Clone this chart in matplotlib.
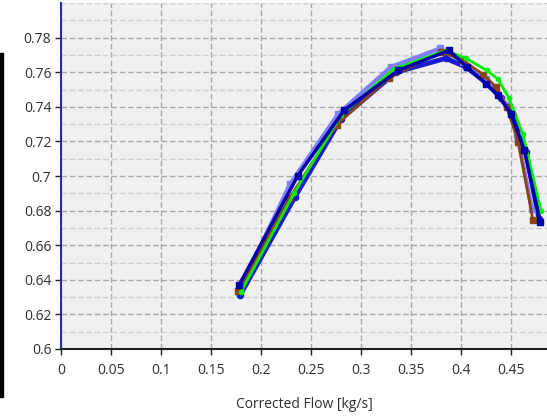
import matplotlib
matplotlib.use('Agg')
import matplotlib.pyplot as plt
from matplotlib.patches import Rectangle
from matplotlib.ticker import MultipleLocator

# efficiency line data
light_x = [0.179, 0.229, 0.2773, 0.330, 0.379, 0.402, 0.425, 0.4457, 0.4563, 0.4707]
light_y = [0.6345, 0.6953, 0.7360, 0.7631, 0.7737, 0.766, 0.756, 0.7412, 0.7238, 0.6812]

brown_x = [0.177, 0.2283, 0.2757, 0.3283, 0.3797, 0.4007, 0.4223, 0.435, 0.4457, 0.4573, 0.472]
brown_y = [0.6335, 0.687, 0.7297, 0.7569, 0.7718, 0.7673, 0.7586, 0.7515, 0.7399, 0.7195, 0.6744]

green_x = [0.18, 0.233, 0.28, 0.333, 0.385, 0.405, 0.426, 0.437, 0.448, 0.462, 0.48]
green_y = [0.633, 0.690, 0.735, 0.762, 0.7725, 0.768, 0.761, 0.756, 0.745, 0.724, 0.680]

blue_x = [0.179, 0.234, 0.28, 0.335, 0.3847, 0.405, 0.425, 0.44, 0.452, 0.465, 0.478]
blue_y = [0.631, 0.688, 0.733, 0.760, 0.768, 0.763, 0.754, 0.745, 0.735, 0.714, 0.675]

navy_x = [0.1783, 0.2367, 0.283, 0.3373, 0.388, 0.4057, 0.425, 0.4373, 0.45, 0.4633, 0.479]
navy_y = [0.6372, 0.7001, 0.7379, 0.7611, 0.7726, 0.7631, 0.7534, 0.7466, 0.736, 0.7150, 0.6734]

x_ticks = [0, 0.05, 0.1, 0.15, 0.2, 0.25, 0.3, 0.35, 0.4, 0.45]
x_tick_labels = ['0', '0.05', '0.1', '0.15', '0.2', '0.25', '0.3', '0.35', '0.4', '0.45']
y_ticks = [0.6, 0.62, 0.64, 0.66, 0.68, 0.7, 0.72, 0.74, 0.76, 0.78]
y_tick_labels = ['0.6', '0.62', '0.64', '0.66', '0.68', '0.7', '0.72', '0.74', '0.76', '0.78']


def main():
    plt.rcParams['font.family'] = ['Open Sans', 'DejaVu Sans']
    fig = plt.figure(figsize=(5.47, 4.18), dpi=100)
    fig.patch.set_facecolor('white')
    W, H = 547, 418
    ax = fig.add_axes([61 / W, 1 - 349 / H, (547 - 61) / W, (349 - 3) / H])
    ax.set_facecolor('#f0f0f0')

    # clipped bar at the far left of the window
    fig.patches.append(Rectangle((0, 1 - 397 / H), 3 / W, (397 - 53) / H,
                                 transform=fig.transFigure, color='black'))

    ax.plot(blue_x, blue_y, color='#1a1ad0', lw=3.5, marker='o', ms=4.5, zorder=3)
    ax.plot(light_x, light_y, color='#7f7fff', lw=3, marker='s', ms=5, zorder=4)
    ax.plot(brown_x, brown_y, color='#8b4513', lw=2, marker='s', ms=5, zorder=5)
    ax.plot(green_x, green_y, color='#00ee00', lw=2, marker='o', ms=3, zorder=6)
    ax.plot(navy_x, navy_y, color='#0000a8', lw=2.5, marker='s', ms=5, zorder=7)

    ax.set_xlim(0, 0.486)
    ax.set_ylim(0.6, 0.8)
    ax.set_xticks(x_ticks)
    ax.set_xticklabels(x_tick_labels)
    ax.set_yticks(y_ticks)
    ax.set_yticklabels(y_tick_labels)
    ax.yaxis.set_minor_locator(MultipleLocator(0.01))

    ax.grid(which='major', color='#a8a8a8', linestyle=(0, (4, 2)), lw=1)
    ax.grid(which='minor', axis='y', color='#cfcfcf', linestyle=(0, (4, 2)), lw=1)
    ax.set_axisbelow(True)

    ax.tick_params(axis='both', which='major', direction='out', length=4, width=1,
                   color='#202020', labelsize=10, labelcolor='#303030', pad=3)
    ax.tick_params(axis='y', which='minor', length=0)
    ax.tick_params(axis='x', pad=6)

    ax.spines['left'].set_color('#2a2aa8')
    ax.spines['left'].set_linewidth(1.5)
    ax.spines['bottom'].set_color('#202020')
    ax.spines['bottom'].set_linewidth(1.5)
    ax.spines['top'].set_visible(False)
    ax.spines['right'].set_visible(False)

    ax.set_xlabel('Corrected Flow [kg/s]', fontsize=10, color='#303030', labelpad=14)

    plt.savefig('out.png', dpi=100)


if __name__ == '__main__':
    main()
